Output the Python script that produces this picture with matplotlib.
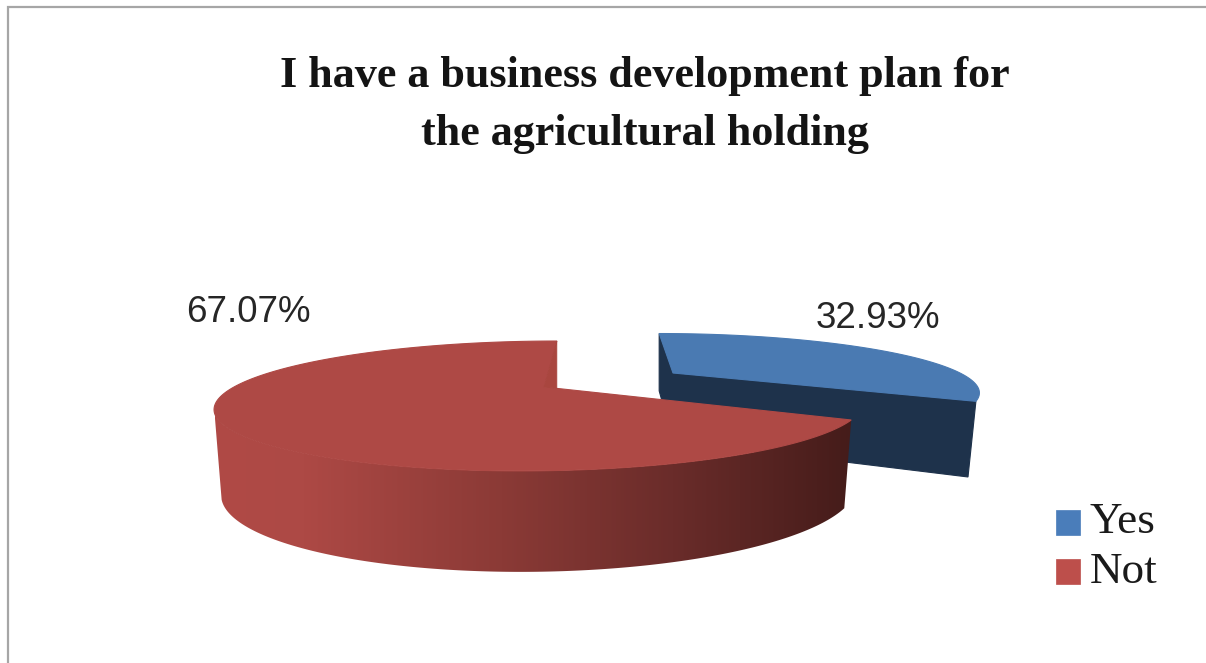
import numpy as np
import matplotlib
matplotlib.use("Agg")
import matplotlib.pyplot as plt
from matplotlib.colors import LinearSegmentedColormap
from matplotlib.patches import Polygon, Rectangle

TITLE = "I have a business development plan for\nthe agricultural holding"
categories = ["Yes", "Not"]
shares = [32.93, 67.07]

TILT = 0.292  # perspective strength of the pie plane


def rim(angle_deg, apex, rx, ry, shear, x_scale=1.0, y_scale=1.0, drop=0.0):
    """Project points of a tilted circle (angles in degrees) to canvas pixels."""
    t = np.radians(angle_deg)
    c, s = np.cos(t), np.sin(t)
    w = 1.0 / (1.0 + TILT * s)
    dy = -ry * s * w
    x = apex[0] + rx * c * w * x_scale - shear * dy
    y = apex[1] + dy * y_scale + drop
    return np.column_stack([x, y])


fig = plt.figure(figsize=(12.06, 6.63), dpi=100, facecolor="white")
ax = fig.add_axes([0, 0, 1, 1])
ax.set_xlim(0, 1206)
ax.set_ylim(663, 0)
ax.axis("off")

# chart frame: only the top and left edges fall inside the canvas
ax.plot([8, 8, 1206], [663, 7, 7], color="#a6a6a6", lw=1.6,
        solid_joinstyle="miter")

start = 90.0
sweep_yes = 360.0 * shares[0] / sum(shares)
sweep_not = 360.0 * shares[1] / sum(shares)
end = start - sweep_yes

# exploded "Yes" slice
b_apex = (673.0, 373.0)
b = dict(apex=b_apex, rx=287.0, ry=51.0, shear=-0.35)
b_angles = np.linspace(start, end, 160)
b_top = rim(b_angles, **b)
b_floor = dict(x_scale=0.973, y_scale=1.27, drop=68.0)
b_end_floor = rim(np.array([end]), **b, **b_floor)[0]
b_back_floor = rim(np.array([start]), **b, **b_floor)[0]
b_wall = np.array([b_top[0], b_apex, b_top[-1], b_end_floor,
                   (b_apex[0], b_apex[1] + b_floor["drop"]),
                   (b_top[0][0], b_back_floor[1])])
ax.add_patch(Polygon(b_wall, closed=True, fc="#1e324b", ec="#1e324b", lw=0.8, zorder=2))
ax.add_patch(Polygon(np.vstack([[b_apex], b_top]), closed=True, fc="#4a7ab2",
                     ec="#4a7ab2", lw=0.8, zorder=3))

# "Not" slice: curved wall with a horizontal shade ramp, then the top face
r_apex = (544.0, 387.0)
r = dict(apex=r_apex, rx=310.0, ry=59.4, shear=0.28)
r_floor = dict(x_scale=0.978, y_scale=1.25, drop=80.0)
r_angles = np.linspace(start, start + sweep_not, 320)
r_top = rim(r_angles, **r)
front = np.linspace(203.0, start + sweep_not, 240)
r_wall = np.vstack([rim(front, **r), rim(front, **r, **r_floor)[::-1]])
wall_patch = Polygon(r_wall, closed=True, fc="none", ec="none", zorder=4)
ax.add_patch(wall_patch)
ramp = LinearSegmentedColormap.from_list(
    "wall", [(0.0, "#b04a46"), (0.14, "#ad4945"), (0.45, "#8b3a36"),
             (0.72, "#6a2c2a"), (1.0, "#451c1a")])
x0, x1 = r_wall[:, 0].min(), r_wall[:, 0].max()
y0, y1 = r_wall[:, 1].min(), r_wall[:, 1].max()
shade = ax.imshow(np.linspace(0, 1, 256)[None, :], cmap=ramp, aspect="auto",
                  extent=[x0, x1, y1, y0], zorder=4, interpolation="bilinear")
shade.set_clip_path(wall_patch)
ax.set_xlim(0, 1206)
ax.set_ylim(663, 0)

ax.add_patch(Polygon(np.vstack([[r_apex], r_top]), closed=True, fc="#ae4945",
                     ec="#ae4945", lw=0.8, zorder=5))

# visible sliver of the cut face at the back of the slice
back = r_top[0]
stop = r_top[-1]
notch_y = r_apex[1] + (stop[1] - r_apex[1]) * (back[0] - r_apex[0]) / (stop[0] - r_apex[0])
ax.add_patch(Polygon([r_apex, back, (back[0], notch_y)], closed=True, fc="#a9463f",
                     ec="#a9463f", lw=0.5, zorder=6))

# title and value labels
title_lines = TITLE.split("\n")
for line, base in zip(title_lines, [87, 145]):
    ax.text(645, base, line, ha="center", va="baseline", family="Liberation Serif",
            weight="bold", fontsize=31.8, color="#141414", zorder=8)
ax.text(878, 328, f"{shares[0]:.2f}%", ha="center", va="baseline", family="Liberation Sans",
        fontsize=26.5, color="#262626", zorder=8)
ax.text(248, 322, f"{shares[1]:.2f}%", ha="center", va="baseline", family="Liberation Sans",
        fontsize=26.5, color="#262626", zorder=8)

# legend
for name, colour, top, base in zip(categories, ["#4a7dba", "#bd4f4b"], [510, 559], [533, 583]):
    ax.add_patch(Rectangle((1056, top), 24, 25, fc=colour, ec=colour, lw=0.5, zorder=8))
    ax.text(1090, base, name, ha="left", va="baseline", family="Liberation Serif",
            fontsize=32.5, color="#1a1a1a", zorder=8)

fig.savefig("out.png", dpi=100)
